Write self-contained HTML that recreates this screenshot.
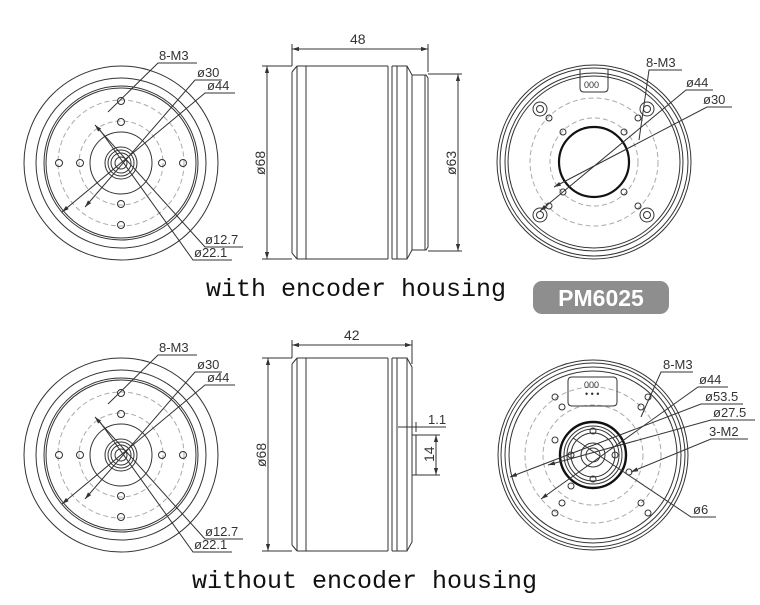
<!DOCTYPE html>
<html><head><meta charset="utf-8"><style>
html,body{margin:0;padding:0;background:#fff;}
svg{display:block;}
.l{fill:none;stroke:#333;stroke-width:1;}
.d{fill:none;stroke:#aaa;stroke-width:1;stroke-dasharray:5 3;}
.t{font-family:"Liberation Sans",sans-serif;font-size:13px;fill:#333;}
.big{font-family:"Liberation Mono",monospace;font-size:25px;fill:#111;}
</style></head><body>
<svg width="760" height="605" viewBox="0 0 760 605" xmlns="http://www.w3.org/2000/svg">
<defs>
<marker id="a" viewBox="0 0 10 10" refX="10" refY="5" markerWidth="7" markerHeight="7" orient="auto-start-reverse"><path d="M0,2 L10,5 L0,8 z" fill="#333"/></marker>
<g id="front">
  <circle class="l" r="97"/><circle class="l" r="85"/><circle class="l" r="77"/><circle class="l" r="75"/>
  <circle class="d" r="63"/><circle class="d" r="42"/>
  <circle class="l" r="31"/><circle class="l" r="16"/><circle class="l" r="13"/><circle class="l" r="10"/><circle class="l" r="6"/>
  <circle class="l" cx="0" cy="-62" r="3.5"/><circle class="l" cx="0" cy="-41" r="3.5"/>
  <circle class="l" cx="0" cy="41" r="3.5"/><circle class="l" cx="0" cy="62" r="3.5"/>
  <circle class="l" cx="-62" cy="0" r="3.5"/><circle class="l" cx="-41" cy="0" r="3.5"/>
  <circle class="l" cx="41" cy="0" r="3.5"/><circle class="l" cx="62" cy="0" r="3.5"/>
  <path class="l" d="M-13,-51 L37,-100 H76"/>
  <path class="l" d="M-36,44 L74,-83 H101" marker-start="url(#a)"/>
  <path class="l" d="M-59,49 L84,-70 H114" marker-start="url(#a)"/>
  <path class="l" d="M-26,-38 L84,84 H122" marker-start="url(#a)"/>
  <path class="l" d="M-21,-33 L72,97 H111"/>
  <text class="t" x="38" y="-103">8-M3</text>
  <text class="t" x="76" y="-86">ø30</text>
  <text class="t" x="86" y="-73">ø44</text>
  <text class="t" x="84" y="81">ø12.7</text>
  <text class="t" x="73" y="94">ø22.1</text>
</g>
</defs>

<use href="#front" x="121" y="163"/>
<use href="#front" x="121" y="455"/>

<!-- top side view -->
<g>
  <path class="l" d="M297,66 H388 M297,259 H388 M292,72 L297,66 M292,253 L297,259 M292,72 V253"/>
  <path class="l" d="M297,66 V259 M306,66 V259 M388,66 V259 M392,66 V259"/>
  <path class="l" d="M392,66 H407 L412,75 V250 L407,259 H392 M397,66 V259 M407,66 V259"/>
  <path class="l" d="M412,75 H426 L428,78 V247 L426,250 H412 M425,75 V250"/>
  <path class="l" d="M292,66 V44 M428,72 V44"/>
  <line class="l" x1="292" y1="49" x2="428" y2="49" marker-start="url(#a)" marker-end="url(#a)"/>
  <text class="t" x="350" y="44" style="font-size:14px">48</text>
  <path class="l" d="M262,66 H292 M262,259 H292"/>
  <line class="l" x1="267" y1="66" x2="267" y2="259" marker-start="url(#a)" marker-end="url(#a)"/>
  <text class="t" transform="translate(265,175) rotate(-90)" style="font-size:14px">ø68</text>
  <path class="l" d="M428,74 H462 M428,251 H462"/>
  <line class="l" x1="458" y1="74" x2="458" y2="251" marker-start="url(#a)" marker-end="url(#a)"/>
  <text class="t" transform="translate(456,175) rotate(-90)" style="font-size:14px">ø63</text>
</g>

<!-- bottom side view -->
<g>
  <path class="l" d="M297,358 H388 M297,551 H388 M292,364 L297,358 M292,545 L297,551 M292,364 V545"/>
  <path class="l" d="M297,358 V551 M306,358 V551 M388,358 V551 M392,358 V551"/>
  <path class="l" d="M392,358 H407 L412,367 V542 L407,551 H392 M397,358 V551 M407,358 V551"/>
  <path class="l" d="M412,435 H416 V475 H412"/>
  <path class="l" d="M292,358 V340 M412,364 V340"/>
  <line class="l" x1="292" y1="345" x2="412" y2="345" marker-start="url(#a)" marker-end="url(#a)"/>
  <text class="t" x="344" y="340" style="font-size:14px">42</text>
  <path class="l" d="M262,358 H292 M262,551 H292"/>
  <line class="l" x1="268" y1="358" x2="268" y2="551" marker-start="url(#a)" marker-end="url(#a)"/>
  <text class="t" transform="translate(266,467) rotate(-90)" style="font-size:14px">ø68</text>
  <path class="l" d="M398,427 H446 M412,422 V432 M416,422 V432"/>
  <text class="t" x="428" y="424">1.1</text>
  <path class="l" d="M416,435 H440 M416,475 H440"/>
  <line class="l" x1="436" y1="435" x2="436" y2="475" marker-start="url(#a)" marker-end="url(#a)"/>
  <text class="t" transform="translate(434,462) rotate(-90)" style="font-size:14px">14</text>
</g>

<!-- top right view -->
<g transform="translate(594,162)">
  <circle class="l" r="97"/><circle class="l" r="94"/><circle class="l" r="89"/><circle class="l" r="86"/>
  <circle class="d" r="64"/><circle class="d" r="44"/>
  <circle r="35" fill="none" stroke="#111" stroke-width="2.2"/>
  <path class="l" d="M-14,-93 V-74 Q-14,-70 -10,-70 H10 Q14,-70 14,-74 V-93"/>
  <text class="t" x="-10" y="-74" style="font-size:9px">000</text>
  <g class="l">
    <circle cx="-54" cy="-53" r="7"/><circle cx="-54" cy="-53" r="3.5"/>
    <circle cx="53" cy="-53" r="7"/><circle cx="53" cy="-53" r="3.5"/>
    <circle cx="-54" cy="53" r="7"/><circle cx="-54" cy="53" r="3.5"/>
    <circle cx="53" cy="53" r="7"/><circle cx="53" cy="53" r="3.5"/>
  </g>
  <circle class="l" cx="-45" cy="-44" r="3"/><circle class="l" cx="44" cy="-44" r="3"/>
  <circle class="l" cx="-45" cy="44" r="3"/><circle class="l" cx="44" cy="44" r="3"/>
  <circle class="l" cx="-31" cy="-30" r="3"/><circle class="l" cx="30" cy="-30" r="3"/>
  <circle class="l" cx="-31" cy="30" r="3"/><circle class="l" cx="30" cy="30" r="3"/>
  <path class="l" d="M45,-22 L55,-92 H88"/>
  <path class="l" d="M-54,49 L92,-72 H119" marker-start="url(#a)"/>
  <path class="l" d="M-40,25 L113,-55 H138" marker-start="url(#a)"/>
  <text class="t" x="52" y="-95">8-M3</text>
  <text class="t" x="92" y="-75">ø44</text>
  <text class="t" x="109" y="-58">ø30</text>
</g>

<!-- bottom right view -->
<g transform="translate(593,455)">
  <circle class="l" r="95"/><circle class="l" r="92"/><circle class="l" r="88"/><circle class="l" r="84"/>
  <circle class="d" r="68"/><circle class="d" r="50"/>
  <circle r="33" fill="none" stroke="#111" stroke-width="2.4"/>
  <circle class="l" r="29"/><circle class="l" r="26"/><circle class="l" r="22"/><circle class="l" r="12"/><circle class="l" r="7"/>
  <path class="l" d="M-21,-78 H20 Q24,-78 24,-74 V-53 Q24,-49 20,-49 H-21 Q-25,-49 -25,-53 V-74 Q-25,-78 -21,-78"/>
  <text class="t" x="-9" y="-67" style="font-size:9px">000</text>
  <text class="t" x="-8" y="-58" style="font-size:9px">• • •</text>
  <circle class="l" cx="0" cy="-24" r="3"/><circle class="l" cx="0" cy="24" r="3"/>
  <circle class="l" cx="-22" cy="0" r="3"/><circle class="l" cx="22" cy="0" r="3"/>
  <circle class="l" cx="-38" cy="-58" r="3"/><circle class="l" cx="-31" cy="-48" r="3"/>
  <circle class="l" cx="55" cy="-58" r="3"/><circle class="l" cx="48" cy="-48" r="3"/>
  <circle class="l" cx="-38" cy="58" r="3"/><circle class="l" cx="-31" cy="48" r="3"/>
  <circle class="l" cx="55" cy="58" r="3"/><circle class="l" cx="48" cy="48" r="3"/>
  <circle class="l" cx="-38" cy="-15" r="3"/>
  <circle class="l" cx="-22" cy="31" r="3"/><circle class="l" cx="36" cy="17" r="3"/>
  <path class="l" d="M48,-38 L68,-83 H100"/>
  <path class="l" d="M-52,44 L105,-68 H135" marker-start="url(#a)"/>
  <path class="l" d="M-83,22 L108,-51 H150" marker-start="url(#a)"/>
  <path class="l" d="M-45,10 L118,-35 H162" marker-start="url(#a)"/>
  <path class="l" d="M38,17 L118,-16 H155" marker-start="url(#a)"/>
  <path class="l" d="M-20,-17 L98,62 H123"/>
  <text class="t" x="70" y="-86">8-M3</text>
  <text class="t" x="106" y="-71">ø44</text>
  <text class="t" x="112" y="-54">ø53.5</text>
  <text class="t" x="120" y="-38">ø27.5</text>
  <text class="t" x="116" y="-19">3-M2</text>
  <text class="t" x="100" y="59">ø6</text>
</g>

<text class="big" x="206" y="296">with encoder housing</text>
<text class="big" x="192" y="588">without encoder housing</text>
<rect x="533" y="281" width="136" height="33" rx="9" fill="#8e8e8e"/>
<text x="601" y="306" text-anchor="middle" style="font-family:'Liberation Sans',sans-serif;font-size:23px;font-weight:bold;fill:#fff">PM6025</text>
</svg>
</body></html>
